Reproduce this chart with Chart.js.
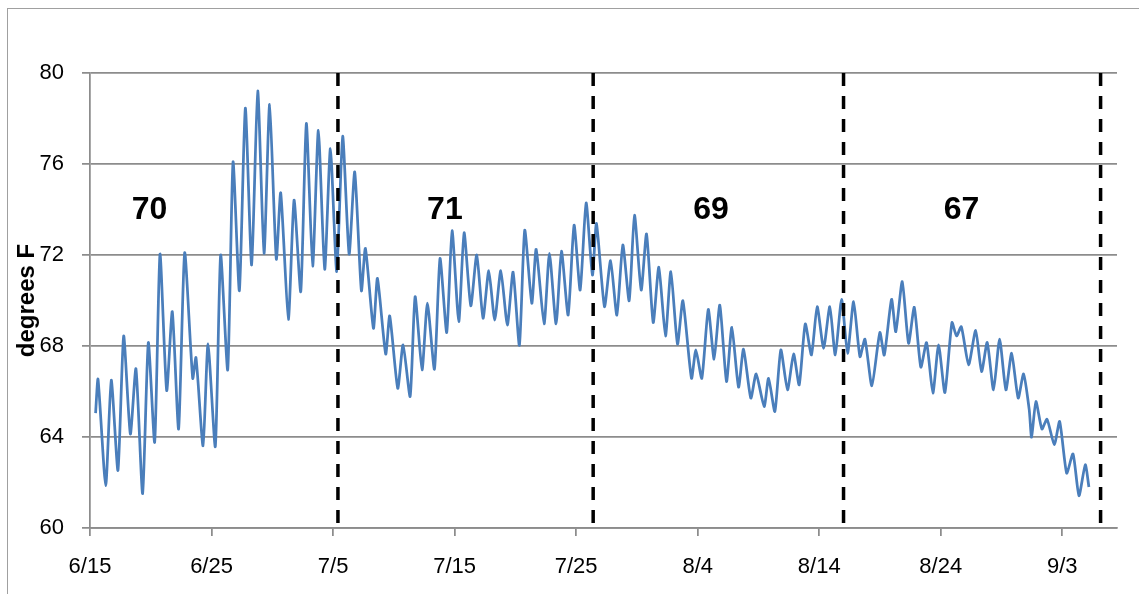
<!DOCTYPE html>
<html>
<head>
<meta charset="utf-8">
<script src="https://cdn.jsdelivr.net/npm/chart.js@4.4.1/dist/chart.umd.min.js"></script>
<style>
  html, body { margin: 0; padding: 0; background: #ffffff; }
  canvas { display: block; }
</style>
</head>
<body>
<canvas id="tempChart" width="1139" height="594"></canvas>
<script>
// Air temperature record, 6/15 to early September.
// Times are days after 6/15 (fractional = time of day), temperatures in degrees F.
const obsDay = [
  0.46, 0.66, 1.29, 1.75, 2.30, 2.77, 3.32, 3.78, 4.33, 4.80,
  5.32, 5.76, 6.31, 6.77, 7.29, 7.79, 8.45, 8.72, 9.30, 9.71,
  10.31, 10.75, 11.33, 11.77, 12.29, 12.78, 13.30, 13.80, 14.32, 14.78,
  15.33, 15.69, 16.32, 16.79, 17.34, 17.80, 18.32, 18.79, 19.31, 19.78,
  20.30, 20.79, 21.32, 21.78, 22.33, 22.66, 23.32, 23.65, 24.33, 24.66,
  25.32, 25.76, 26.34, 26.75, 27.32, 27.76, 28.34, 28.80, 29.35, 29.79,
  30.34, 30.78, 31.33, 31.82, 32.34, 32.81, 33.30, 33.80, 34.34, 34.81,
  35.33, 35.77, 36.35, 36.71, 37.36, 37.80, 38.35, 38.79, 39.34, 39.83,
  40.33, 40.82, 41.34, 41.67, 42.33, 42.83, 43.35, 43.84, 44.36, 44.80,
  45.35, 45.79, 46.34, 46.80, 47.35, 47.79, 48.34, 48.78, 49.49, 49.85,
  50.34, 50.87, 51.35, 51.82, 52.37, 52.81, 53.36, 53.77, 54.37, 54.81,
  55.47, 55.83, 56.35, 56.84, 57.39, 57.89, 58.35, 58.85, 59.36, 59.83,
  60.36, 60.87, 61.32, 61.84, 62.33, 62.83, 63.35, 63.76, 64.33, 64.99,
  65.35, 65.95, 66.30, 66.83, 67.35, 67.82, 68.36, 68.83, 69.35, 69.82,
  70.34, 70.92, 71.30, 71.69, 72.29, 72.87, 73.36, 73.82, 74.34, 74.84,
  75.36, 75.83, 76.37, 76.81, 77.28, 77.47, 77.83, 78.32, 78.74, 79.34,
  79.78, 80.36, 80.88, 81.37, 81.89, 82.19
];
const obsTempF = [
  65.05, 66.54, 61.86, 66.50, 62.53, 68.44, 64.13, 67.00, 61.51, 68.15,
  63.77, 72.04, 66.04, 69.51, 64.35, 72.10, 66.58, 67.49, 63.61, 68.09,
  63.58, 72.00, 66.95, 76.09, 70.43, 78.46, 71.56, 79.21, 72.07, 78.62,
  71.82, 74.73, 69.17, 74.41, 70.39, 77.78, 71.51, 77.48, 71.37, 76.68,
  71.27, 77.22, 72.04, 75.65, 70.43, 72.29, 68.78, 70.97, 67.65, 69.32,
  66.14, 68.05, 65.78, 70.17, 66.95, 69.88, 66.98, 71.85, 68.59, 73.07,
  69.07, 72.98, 69.77, 72.00, 69.22, 71.31, 69.14, 71.31, 68.92, 71.25,
  68.03, 73.09, 69.88, 72.25, 68.97, 72.07, 68.97, 72.17, 69.36, 73.31,
  70.46, 74.29, 71.12, 73.39, 69.73, 71.75, 69.36, 72.44, 69.99, 73.75,
  70.46, 72.92, 69.03, 71.46, 68.44, 71.27, 68.09, 69.99, 66.58, 67.83,
  66.58, 69.61, 67.42, 69.80, 66.44, 68.82, 66.19, 67.86, 65.71, 66.77,
  65.34, 66.58, 65.12, 67.83, 66.07, 67.65, 66.29, 68.97, 67.61, 69.73,
  67.90, 69.73, 67.61, 70.05, 67.68, 69.95, 67.53, 68.30, 66.25, 68.59,
  67.60, 70.05, 68.63, 70.83, 68.12, 69.70, 67.07, 68.15, 65.93, 68.05,
  65.95, 69.03, 68.44, 68.85, 67.17, 68.68, 66.88, 68.15, 66.07, 68.30,
  66.07, 67.68, 65.71, 66.77, 65.19, 63.99, 65.56, 64.35, 64.78, 63.66,
  64.68, 62.41, 63.26, 61.42, 62.78, 61.80
];

// Period boundaries (days after 6/15) and the mean temperature of each period
const periodBounds = [20.4, 41.4, 62.0, 83.15];
const periodMeans = [70, 71, 69, 67];

// Date axis labels, every ten days
const tickLabels = ['6/15', '6/25', '7/5', '7/15', '7/25', '8/4', '8/14', '8/24', '9/3'];
const tickDays = [0, 10, 20, 30, 40, 50, 60, 70, 80];

// Temperature axis
const yTicks = [60, 64, 68, 72, 76, 80];

const FONT = '"Liberation Sans", Arial, sans-serif';
const GRID = '#8c8c8c';

// Where each period mean is written (days, degrees F)
const meanLabelSpots = [[4.9, 73.95], [29.2, 73.95], [51.1, 73.95], [71.7, 73.95]];

const frameBorder = {
  id: 'frameBorder',
  beforeDraw(chart) {
    const ctx = chart.ctx;
    ctx.save();
    ctx.strokeStyle = '#a0a0a0';
    ctx.lineWidth = 1;
    ctx.strokeRect(7.5, 8.5, 1200, 700);
    ctx.restore();
  }
};

const meanLabels = {
  id: 'meanLabels',
  afterDatasetsDraw(chart) {
    const { ctx, scales: { x, y } } = chart;
    ctx.save();
    ctx.font = 'bold 32px ' + FONT;
    ctx.fillStyle = '#000000';
    ctx.textAlign = 'center';
    ctx.textBaseline = 'middle';
    periodMeans.forEach((m, i) => {
      const [d, t] = meanLabelSpots[i];
      ctx.fillText(String(m), x.getPixelForValue(d), y.getPixelForValue(t));
    });
    ctx.restore();
  }
};

const boundaryDatasets = periodBounds.map(d => ({
  label: 'boundary',
  data: [{ x: d, y: 80 }, { x: d, y: 60 }],
  borderColor: '#000000',
  borderWidth: 3.5,
  borderDash: [13, 10],
  pointRadius: 0,
  tension: 0,
  order: 0
}));

const tempDataset = {
  label: 'degrees F',
  data: obsDay.map((d, i) => ({ x: d, y: obsTempF[i] })),
  borderColor: '#4a7ebb',
  borderWidth: 2.75,
  pointRadius: 0,
  tension: 0.2,
  order: 1
};

new Chart(document.getElementById('tempChart'), {
  type: 'line',
  data: { datasets: [...boundaryDatasets, tempDataset] },
  options: {
    responsive: false,
    devicePixelRatio: 1,
    animation: false,
    events: [],
    layout: { padding: { top: 73, right: 22, bottom: 0, left: 0 } },
    plugins: { legend: { display: false }, tooltip: { enabled: false } },
    scales: {
      x: {
        type: 'linear',
        min: 0,
        max: 84.5,
        afterBuildTicks: scale => { scale.ticks = tickDays.map(v => ({ value: v })); },
        afterFit: scale => { scale.height = 66; },
        grid: { display: true, drawOnChartArea: false, drawTicks: true, tickLength: 8, color: GRID, lineWidth: 1.75 },
        border: { display: true, color: GRID, width: 1.75 },
        ticks: {
          autoSkip: false,
          maxRotation: 0,
          padding: 18,
          color: '#000000',
          font: { family: FONT, size: 22 },
          callback: v => tickLabels[tickDays.indexOf(v)]
        }
      },
      y: {
        min: 60,
        max: 80,
        afterBuildTicks: scale => { scale.ticks = yTicks.map(v => ({ value: v })); },
        afterFit: scale => { scale.width = 90; },
        grid: { color: GRID, lineWidth: 1.75, tickLength: 8, drawTicks: true },
        border: { display: true, color: GRID, width: 1.75 },
        ticks: {
          padding: 18,
          color: '#000000',
          font: { family: FONT, size: 22 }
        },
        title: {
          display: true,
          text: 'degrees F',
          color: '#000000',
          font: { family: FONT, size: 24, weight: 'bold' },
          padding: { top: 13, bottom: 0 }
        }
      }
    }
  },
  plugins: [frameBorder, meanLabels]
});
</script>
</body>
</html>
